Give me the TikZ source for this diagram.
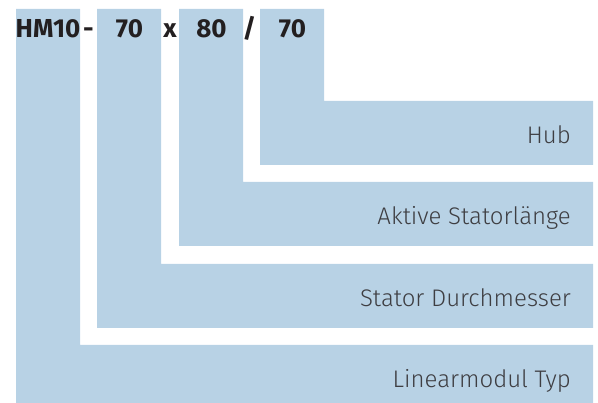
\documentclass[tikz,border=0pt]{standalone}
\usepackage{fontspec}
\setmainfont{Fira Sans}
\IfFontExistsTF{Fira Sans Light}{\newfontfamily\lightfont{Fira Sans Light}}{\newfontfamily\lightfont{Fira Sans}}
\usepackage{xcolor}
\usetikzlibrary{positioning}
\definecolor{codeblue}{RGB}{184,210,229}
\definecolor{codetext}{RGB}{35,31,32}
\definecolor{labeltext}{RGB}{62,62,66}
\tikzset{
	codepart/.style = {fill = codeblue, draw = none},
	codekey/.style = {anchor = base, font = \bfseries\fontsize{26}{26}\selectfont, text = codetext, inner sep = 0pt},
	codelabel/.style = {anchor = base east, font = \lightfont\fontsize{24}{24}\selectfont, text = labeltext, inner sep = 0pt}
}

\begin{document}
\begin{tikzpicture}[x = 1pt, y = -1pt]
		\useasboundingbox (0, 0) rectangle (598, 403);

		\fill [codepart] (260, 9) -- (324, 9) -- (324, 101) -- (593, 101) -- (593, 165) -- (260, 165) -- cycle;
		\fill [codepart] (179, 9) -- (243, 9) -- (243, 182) -- (593, 182) -- (593, 246) -- (179, 246) -- cycle;
		\fill [codepart] (97, 9) -- (161, 9) -- (161, 264) -- (593, 264) -- (593, 328) -- (97, 328) -- cycle;
		\fill [codepart] (16, 9) -- (80, 9) -- (80, 345) -- (593, 345) -- (593, 403) -- (16, 403) -- cycle;

		\node [codekey] (typ) at (48, 38) {HM10};
		\node [codekey] (sepa) at (88.5, 38) {-};
		\node [codekey] (durchm) at (129.5, 38) {70};
		\node [codekey] (sepb) at (170, 38) {x};
		\node [codekey] (laenge) at (211.5, 38) {80};
		\node [codekey] (sepc) at (249.5, 38) {/};
		\node [codekey] (hub) at (292.5, 38) {70};

		\node [codelabel] (hubtext) at (571, 144) {Hub};
		\node [codelabel] (laengetext) at (571, 225) {Aktive Statorlänge};
		\node [codelabel] (durchmtext) at (571, 307) {Stator Durchmesser};
		\node [codelabel] (typtext) at (571, 388) {Linearmodul Typ};
	\end{tikzpicture}
\end{document}
